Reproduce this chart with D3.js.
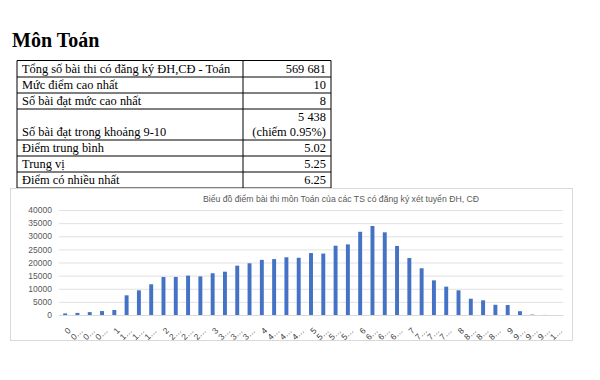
<!DOCTYPE html>
<html>
<head>
<meta charset="utf-8">
<script src="https://cdn.jsdelivr.net/npm/d3@7"></script>
<style>
  body { margin: 0; background: #fff; }
  svg { display: block; }
</style>
</head>
<body>
<svg id="page" width="600" height="380"></svg>
<script>
// summary table
const tableLabels = [
  'Tổng số bài thi có đăng ký ĐH,CĐ - Toán',
  'Mức điểm cao nhất',
  'Số bài đạt mức cao nhất',
  'Số bài đạt trong khoảng 9-10',
  'Điểm trung bình',
  'Trung vị',
  'Điểm có nhiều nhất'
];
const tableValues = [
  ['569 681'],
  ['10'],
  ['8'],
  ['5 438', '(chiếm 0.95%)'],
  ['5.02'],
  ['5.25'],
  ['6.25']
];

// histogram
const scores = [
  0, 0.25, 0.5, 0.75, 1, 1.25, 1.5, 1.75, 2, 2.25, 2.5, 2.75, 3, 3.25, 3.5, 3.75,
  4, 4.25, 4.5, 4.75, 5, 5.25, 5.5, 5.75, 6, 6.25, 6.5, 6.75, 7, 7.25, 7.5, 7.75,
  8, 8.25, 8.5, 8.75, 9, 9.25, 9.5, 9.75, 10
];
const counts = [
  600, 800, 1100, 1500, 1900, 7500, 9400, 11700, 14500, 14500, 15000, 14700,
  15900, 16500, 18800, 19700, 21000, 21300, 22000, 21800, 23600, 23400, 26400,
  26900, 31700, 33900, 31500, 26300, 21700, 17800, 13200, 10800, 9400, 6200,
  5600, 3900, 3800, 1450, 150, 30, 8
];
const tickLabels = [
  '0', '0…', '0…', '0…', '1', '1…', '1…', '1…', '2', '2…', '2…', '2…',
  '3', '3…', '3…', '3…', '4', '4…', '4…', '4…', '5', '5…', '5…', '5…',
  '6', '6…', '6…', '6…', '7', '7…', '7…', '7…', '8', '8…', '8…', '8…',
  '9', '9…', '9…', '9…', '1…'
];
const yTicks = [0, 5000, 10000, 15000, 20000, 25000, 30000, 35000, 40000];

const BAR_COLOR = '#4472C4';
const TEXT_GRAY = '#595959';
const GRID = '#d9d9d9';

const svg = d3.select('#page');

function drawHeader() {
  svg.append('text')
    .attr('x', 12)
    .attr('y', 47)
    .attr('font-family', 'Liberation Serif, serif')
    .attr('font-weight', 'bold')
    .attr('font-size', 20)
    .attr('fill', '#000')
    .text('Môn Toán');
}

function drawTable() {
  const left = 17, mid = 243, right = 331;
  const rowLines = [60.5, 77, 93, 109, 140, 156, 172, 188];
  const g = svg.append('g')
    .attr('font-family', 'Liberation Serif, serif')
    .attr('font-size', 12.4)
    .attr('fill', '#000');

  g.selectAll('line.h')
    .data(rowLines)
    .join('line')
    .attr('class', 'h')
    .attr('x1', left).attr('x2', right)
    .attr('y1', (d) => d).attr('y2', (d) => d)
    .attr('stroke', '#000');

  [left, mid, right].forEach((x) => {
    g.append('line')
      .attr('x1', x).attr('x2', x)
      .attr('y1', rowLines[0]).attr('y2', rowLines[rowLines.length - 1])
      .attr('stroke', '#000');
  });

  g.selectAll('text.lab')
    .data(tableLabels)
    .join('text')
    .attr('class', 'lab')
    .attr('x', 22)
    .attr('y', (d, i) => rowLines[i + 1] - 4)
    .text((d) => d);

  tableValues.forEach((lines, i) => {
    lines.forEach((t, j) => {
      g.append('text')
        .attr('x', 326)
        .attr('y', rowLines[i + 1] - 4 - (lines.length - 1 - j) * 15.5)
        .attr('text-anchor', 'end')
        .text(t);
    });
  });
}

function drawChart() {
  const box = { x: 10.5, y: 188.5, w: 562, h: 152 };
  svg.append('rect')
    .attr('x', box.x).attr('y', box.y)
    .attr('width', box.w).attr('height', box.h)
    .attr('fill', '#fff')
    .attr('stroke', GRID);

  svg.append('text')
    .attr('x', 341)
    .attr('y', 202)
    .attr('text-anchor', 'middle')
    .attr('font-family', 'Liberation Sans, sans-serif')
    .attr('font-size', 8.5)
    .attr('fill', TEXT_GRAY)
    .attr('textLength', 276)
    .attr('lengthAdjust', 'spacingAndGlyphs')
    .text('Biểu đồ điểm bài thi môn Toán của các TS có đăng ký xét tuyển ĐH, CĐ');

  const x = d3.scaleBand()
    .domain(scores)
    .range([59, 563])
    .paddingInner(0.68)
    .paddingOuter(0.34);

  const y = d3.scaleLinear()
    .domain([0, 40000])
    .range([315, 210]);

  const chart = svg.append('g');

  chart.append('g')
    .attr('transform', 'translate(59, 0)')
    .call(d3.axisLeft(y).tickValues(yTicks).tickSize(-504).tickPadding(7).tickFormat(d3.format('d')))
    .call((g) => g.select('.domain').remove())
    .call((g) => g.selectAll('.tick line').attr('stroke', GRID).attr('stroke-width', 0.8))
    .call((g) => g.selectAll('.tick text')
      .attr('fill', TEXT_GRAY)
      .attr('font-family', 'Liberation Sans, sans-serif')
      .attr('font-size', 8.5));

  chart.append('g')
    .selectAll('rect')
    .data(scores)
    .join('rect')
    .attr('x', (d) => x(d))
    .attr('width', x.bandwidth())
    .attr('y', (d, i) => y(counts[i]))
    .attr('height', (d, i) => y(0) - y(counts[i]))
    .attr('fill', BAR_COLOR);

  chart.append('g')
    .attr('transform', 'translate(0, 315)')
    .call(d3.axisBottom(x).tickSize(0).tickFormat((d, i) => tickLabels[i]))
    .call((g) => g.select('.domain').attr('stroke', GRID))
    .call((g) => g.selectAll('.tick text')
      .attr('fill', '#404040')
      .attr('font-family', 'Liberation Sans, sans-serif')
      .attr('font-size', 8.5)
      .attr('text-anchor', 'end')
      .attr('dy', 0)
      .attr('transform', 'translate(4, 14) rotate(-45)'));
}

drawHeader();
drawTable();
drawChart();
</script>
</body>
</html>
